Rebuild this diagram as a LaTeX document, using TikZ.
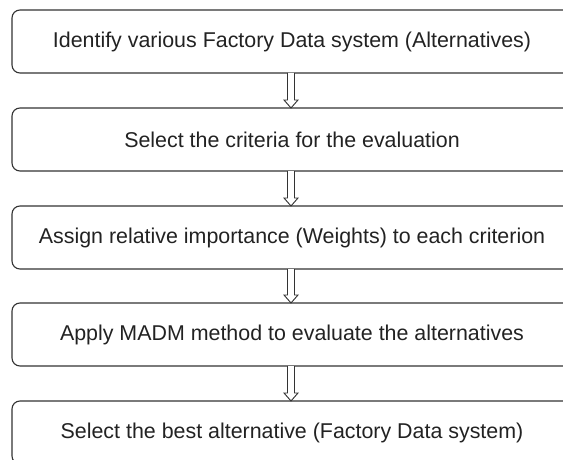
\documentclass[tikz,border=0pt]{standalone}
\usepackage{fontspec}
\setmainfont{Liberation Sans}
\usetikzlibrary{calc}
\definecolor{linec}{HTML}{333333}
\definecolor{textc}{HTML}{222222}
\tikzset{
  stepbox/.style={draw=linec, line width=1.1pt, rounded corners=8pt, minimum width=560pt, minimum height=63pt,
    inner sep=0pt, outer sep=0pt, text=textc, font=\fontsize{21.4pt}{24pt}\selectfont, anchor=center},
  hollow/.style={draw=linec, line width=0.9pt, fill=white, line join=miter}
}
\newcommand{\hollowarrow}[2]{%
  \draw[hollow] ($(#1.south)+(-4.5pt,0)$) -- ($(#2.north)+(-4.5pt,8pt)$) -- ($(#2.north)+(-8pt,8pt)$)
    -- ($(#2.north)+(-1pt,0)$) -- ($(#2.north)+(6pt,8pt)$) -- ($(#2.north)+(2.5pt,8pt)$) -- ($(#1.south)+(2.5pt,0)$);}
\begin{document}
\begin{tikzpicture}[x=1pt,y=1pt]
\useasboundingbox (0,0) rectangle (563,459);
\clip (0,0) rectangle (563,459);
\node[stepbox] (b1) at (292,417.5) {Identify various Factory Data system (Alternatives)};
\node[stepbox] (b2) at (292,319.5) {Select the criteria for the evaluation};
\node[stepbox] (b3) at (292,221.5) {Assign relative importance (Weights) to each criterion};
\node[stepbox] (b4) at (292,124.5) {Apply MADM method to evaluate the alternatives};
\node[stepbox] (b5) at (292,26.5) {Select the best alternative (Factory Data system)};
\hollowarrow{b1}{b2}
\hollowarrow{b2}{b3}
\hollowarrow{b3}{b4}
\hollowarrow{b4}{b5}
\end{tikzpicture}
\end{document}
